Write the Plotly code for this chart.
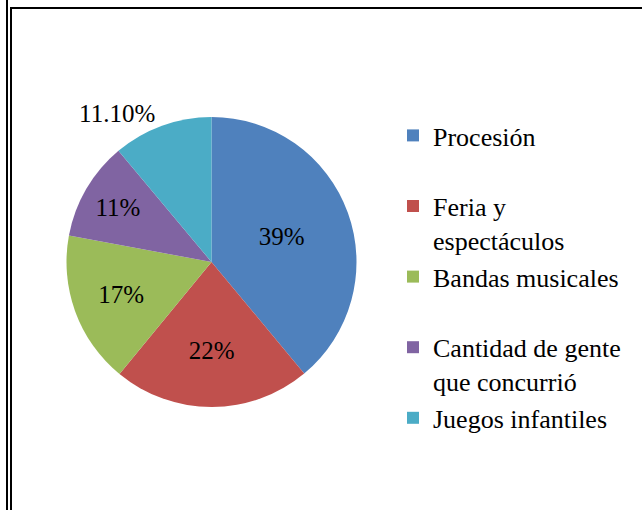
import plotly.graph_objects as go

categories = ['Procesión', 'Feria y<br>espectáculos', 'Bandas musicales',
              'Cantidad de gente<br>que concurrió', 'Juegos infantiles']
values = [39, 22, 17, 11, 11.1]
value_labels = ['39%', '22%', '17%', '11%', '11.10%']
colors = ['#4F81BD', '#C0504D', '#9BBB59', '#8064A2', '#4BACC6']

# pad single-line legend entries to two lines so all entries share the same height
legend_names = [c if '<br>' in c else c + '<br>\u00a0' for c in categories]

W, H = 642, 510
cx, cy, r = 211.5, 262, 145
serif = 'Liberation Serif, Times New Roman, serif'

fig = go.Figure()
fig.add_trace(go.Pie(
    labels=legend_names, values=values, text=value_labels, textinfo='text',
    sort=False, direction='clockwise', rotation=0,
    marker=dict(colors=colors, line=dict(width=0)),
    textposition=['inside', 'inside', 'inside', 'inside', 'outside'],
    insidetextorientation='horizontal',
    textfont=dict(family=serif, size=25, color='black'),
    domain=dict(x=[(cx - r) / W, (cx + r) / W], y=[(H - cy - r) / H, (H - cy + r) / H]),
    hovertemplate='%{label}: %{text}<extra></extra>',
))

# frame lines (double rule on the left, single rule on top)
line = dict(color='black', width=2)
fig.add_shape(type='line', xref='paper', yref='paper', x0=7 / W, x1=7 / W, y0=0, y1=1, line=line)
fig.add_shape(type='line', xref='paper', yref='paper', x0=11 / W, x1=11 / W, y0=0, y1=1 - 7 / H, line=line)
fig.add_shape(type='line', xref='paper', yref='paper', x0=10 / W, x1=1, y0=1 - 8 / H, y1=1 - 8 / H, line=line)

fig.update_layout(
    width=W, height=H,
    margin=dict(l=0, r=0, t=0, b=0),
    paper_bgcolor='white', plot_bgcolor='white',
    font=dict(family=serif, size=26, color='black'),
    showlegend=True,
    legend=dict(x=393 / W, y=1 - 112 / H, xanchor='left', yanchor='top', valign='top',
                font=dict(family=serif, size=26, color='black'),
                bgcolor='rgba(0,0,0,0)'),
)

fig.write_html('out.html', config={'displayModeBar': False},
               post_script="document.body.style.margin='0';")
